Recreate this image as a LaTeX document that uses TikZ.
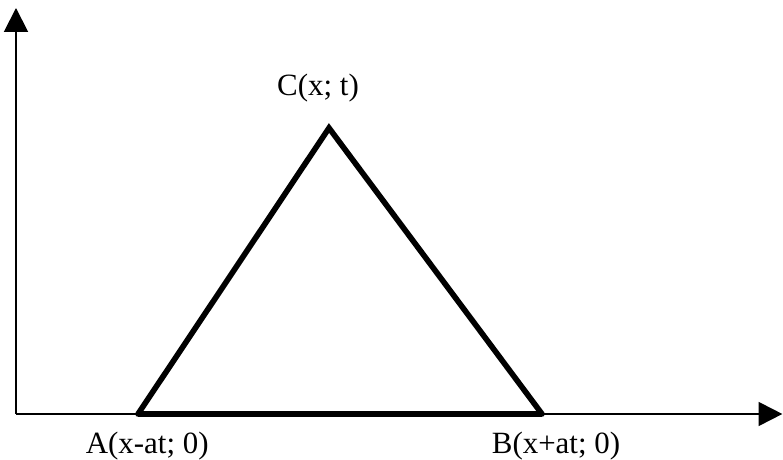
\documentclass[tikz,border=0pt]{standalone}
\usepackage{fontspec}
\setmainfont{Liberation Serif}
\usetikzlibrary{arrows.meta}

\begin{document}
\begin{tikzpicture}[axis/.style={line width=1.4pt, -{Triangle[length=17pt, width=17pt]}},
  side/.style={line width=4pt, line cap=round, line join=miter},
  lbl/.style={font=\fontsize{22}{26}\selectfont, inner sep=0pt}]
\useasboundingbox (0,0) rectangle (19.575,11.5);
\coordinate (O) at (0.40,1.15);
\coordinate (ytip) at (0.40,11.30);
\coordinate (xtip) at (19.56,1.15);
\coordinate (A) at (3.45,1.15);
\coordinate (B) at (13.55,1.15);
\coordinate (C) at (8.225,8.30);
\draw[axis] (O) -- (ytip);
\draw[axis] (O) -- (xtip);
\draw[side] (A) -- (C) -- (B);
\draw[line width=4.6pt] (A) -- (B);
\node[lbl] (Clbl) at (7.95,9.30) {C(x; t)};
\node[lbl] (Albl) at (3.68,0.35) {A(x-at; 0)};
\node[lbl] (Blbl) at (13.90,0.35) {B(x+at; 0)};
\end{tikzpicture}
\end{document}
